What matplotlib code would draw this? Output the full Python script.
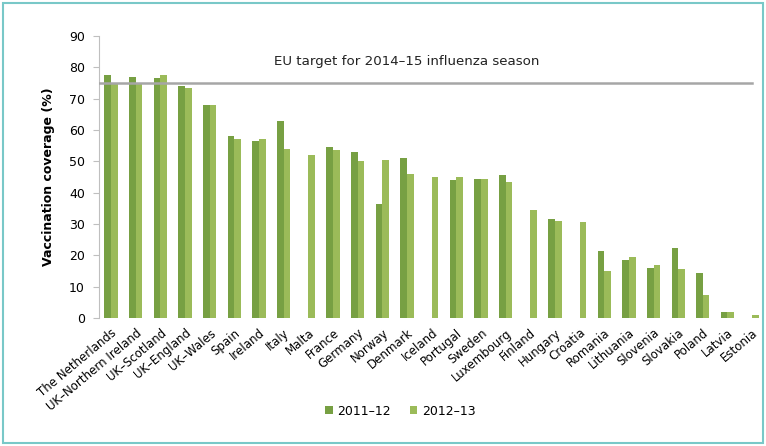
import numpy as np
import matplotlib
matplotlib.use("Agg")
import matplotlib.pyplot as plt
from matplotlib.patches import Rectangle

countries = ["The Netherlands", "UK–Northern Ireland", "UK–Scotland", "UK–England", "UK–Wales",
             "Spain", "Ireland", "Italy", "Malta", "France", "Germany", "Norway", "Denmark",
             "Iceland", "Portugal", "Sweden", "Luxembourg", "Finland", "Hungary", "Croatia",
             "Romania", "Lithuania", "Slovenia", "Slovakia", "Poland", "Latvia", "Estonia"]
s2011 = [77.5, 77.0, 76.5, 74.0, 68.0, 58.0, 56.5, 63.0, np.nan, 54.5, 53.0, 36.5, 51.0,
         np.nan, 44.0, 44.5, 45.5, np.nan, 31.5, np.nan, 21.5, 18.5, 16.0, 22.5, 14.5, 2.0, np.nan]
s2012 = [75.0, 75.0, 77.5, 73.5, 68.0, 57.0, 57.0, 54.0, 52.0, 53.5, 50.0, 50.5, 46.0,
         45.0, 45.0, 44.5, 43.5, 34.5, 31.0, 30.5, 15.0, 19.5, 17.0, 15.5, 7.5, 2.0, 1.0]
series_names = ["2011–12", "2012–13"]
target = 75
target_label = "EU target for 2014–15 influenza season"

c1 = "#77a043"
c2 = "#9bbb59"

fig = plt.figure(figsize=(7.66, 4.46), dpi=100)
ax = fig.add_axes([0.129, 0.287, 0.869, 0.632])

x = np.arange(len(countries))
w = 0.27
ax.bar(x - w / 2, s2011, width=w, color=c1, label=series_names[0], zorder=2)
ax.bar(x + w / 2, s2012, width=w, color=c2, label=series_names[1], zorder=2)

ax.plot([-0.5, len(countries) - 1], [target, target], color="#a6a6a6", lw=1.8, zorder=3)
ax.text(12.0, 82, target_label, ha="center", va="center", fontsize=9.6, color="#222222")

ax.set_xlim(-0.5, len(countries) - 0.5)
ax.set_ylim(0, 90)
ax.set_yticks(np.arange(0, 91, 10))
ax.set_xticks(x)
ax.set_xticklabels(countries, rotation=40, ha="right", rotation_mode="anchor", fontsize=8.5)
ax.tick_params(axis="x", length=0, pad=6)
ax.tick_params(axis="y", labelsize=9, color="#bfbfbf", length=4, pad=6)
for s in ["top", "right", "bottom"]:
    ax.spines[s].set_visible(False)
ax.spines["left"].set_color("#bfbfbf")
ax.set_ylabel("Vaccination coverage (%)", fontsize=9, fontweight="bold", labelpad=10)

fig.legend(loc="center", bbox_to_anchor=(0.523, 0.078), ncol=2, frameon=False, fontsize=9,
           handlelength=0.6, handleheight=0.6, handletextpad=0.4, columnspacing=1.5)

fig.patches.append(Rectangle((0.004, 0.006), 0.992, 0.988, transform=fig.transFigure,
                             fill=False, edgecolor="#79c8c8", lw=1.5))

fig.savefig("out.png", dpi=100)
